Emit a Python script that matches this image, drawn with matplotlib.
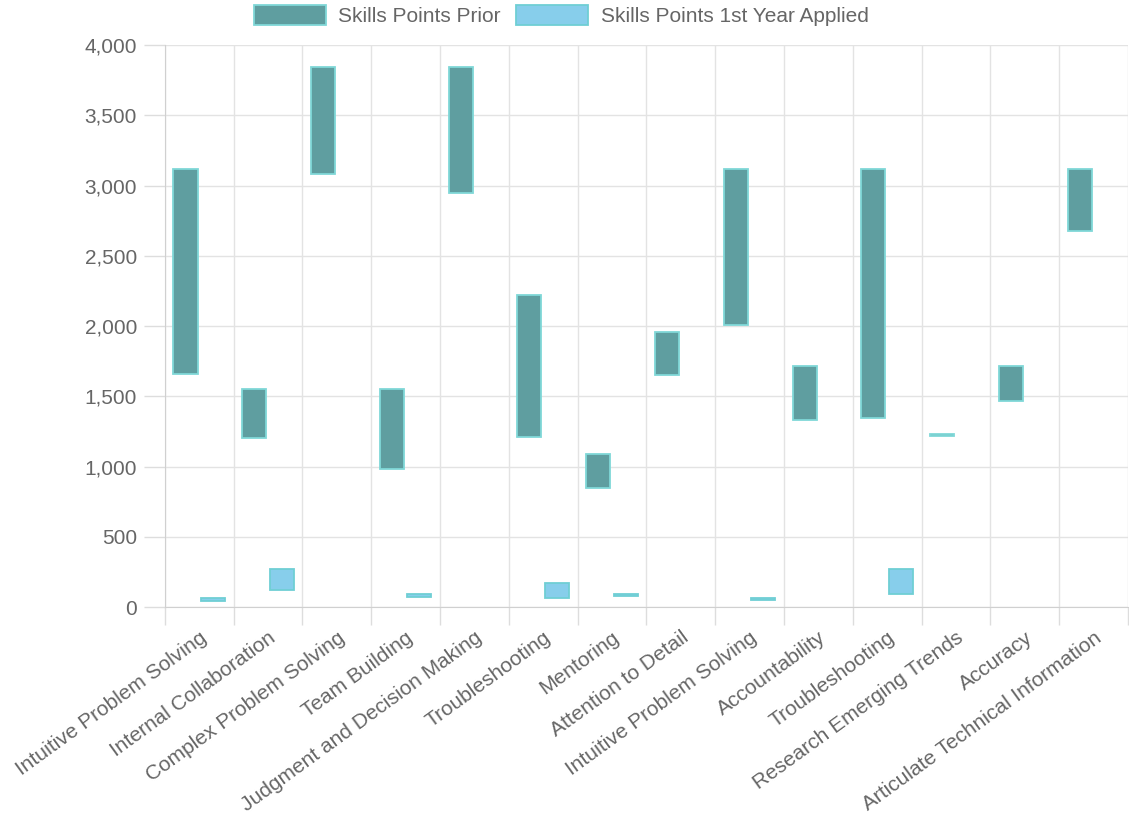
import numpy as np
import matplotlib
matplotlib.use('Agg')
import matplotlib.pyplot as plt
from matplotlib.ticker import FuncFormatter, FixedLocator

# data
skills = ['Intuitive Problem Solving', 'Internal Collaboration', 'Complex Problem Solving',
          'Team Building', 'Judgment and Decision Making', 'Troubleshooting', 'Mentoring',
          'Attention to Detail', 'Intuitive Problem Solving', 'Accountability',
          'Troubleshooting', 'Research Emerging Trends', 'Accuracy',
          'Articulate Technical Information']
prior_low = [1660, 1200, 3085, 985, 2945, 1210, 850, 1650, 2005, 1335, 1345, 1220, 1465, 2675]
prior_high = [3120, 1550, 3845, 1550, 3845, 2220, 1090, 1960, 3120, 1715, 3120, 1230, 1715, 3120]
applied_low = [45, 120, None, 75, None, 65, 80, None, 50, None, 95, None, None, None]
applied_high = [65, 270, None, 95, None, 170, 95, None, 65, None, 270, None, None, None]

plt.rcParams['font.family'] = ['Liberation Sans', 'DejaVu Sans']
text_color = '#666666'
fs = 15

fig = plt.figure(figsize=(11.29, 8.26), dpi=100)
ax = fig.add_axes([0.146, 0.265, 0.853, 0.6805])

x = np.arange(len(skills))
p_lo = np.array(prior_low, dtype=float)
p_hi = np.array(prior_high, dtype=float)
a_lo = np.array([np.nan if v is None else v for v in applied_low], dtype=float)
a_hi = np.array([np.nan if v is None else v for v in applied_high], dtype=float)

ax.bar(x - 0.2, p_hi - p_lo, bottom=p_lo, width=0.35, color='#5f9ea0',
       edgecolor='#80d8d8', linewidth=1.3, label='Skills Points Prior', zorder=3)
ax.bar(x + 0.2, a_hi - a_lo, bottom=a_lo, width=0.35, color='#87ceeb',
       edgecolor='#6fcfd4', linewidth=1.3, label='Skills Points 1st Year Applied', zorder=3)

ax.set_xlim(-0.5, len(skills) - 0.5)
ax.set_ylim(0, 4000)
ax.set_yticks(np.arange(0, 4001, 500))
ax.yaxis.set_major_formatter(FuncFormatter(lambda v, p: f'{int(v):,}'))

ax.set_xticks(x)
ax.set_xticklabels(skills, rotation=36, ha='right', rotation_mode='anchor')
ax.xaxis.set_minor_locator(FixedLocator(np.arange(-0.5, len(skills), 1.0)))
ax.tick_params(axis='x', which='major', length=0, pad=15, labelsize=fs, labelcolor=text_color)
ax.tick_params(axis='x', which='minor', length=13, width=1, color='#dddddd')
ax.tick_params(axis='y', length=15, width=1, color='#dddddd', pad=5,
               labelsize=fs, labelcolor=text_color)

ax.grid(True, axis='y', color='#e3e3e3', linewidth=1, zorder=0)
ax.grid(True, axis='x', which='minor', color='#e3e3e3', linewidth=1, zorder=0)
for side in ['top', 'right']:
    ax.spines[side].set_visible(False)
for side in ['left', 'bottom']:
    ax.spines[side].set_color('#d0d0d0')

leg = fig.legend(loc='upper center', bbox_to_anchor=(0.497, 1.017), ncol=2, frameon=False,
                 fontsize=fs, handlelength=3.45, handleheight=1.15, handletextpad=0.6,
                 columnspacing=0.75, labelcolor=text_color)

fig.savefig('out.png', dpi=100)
